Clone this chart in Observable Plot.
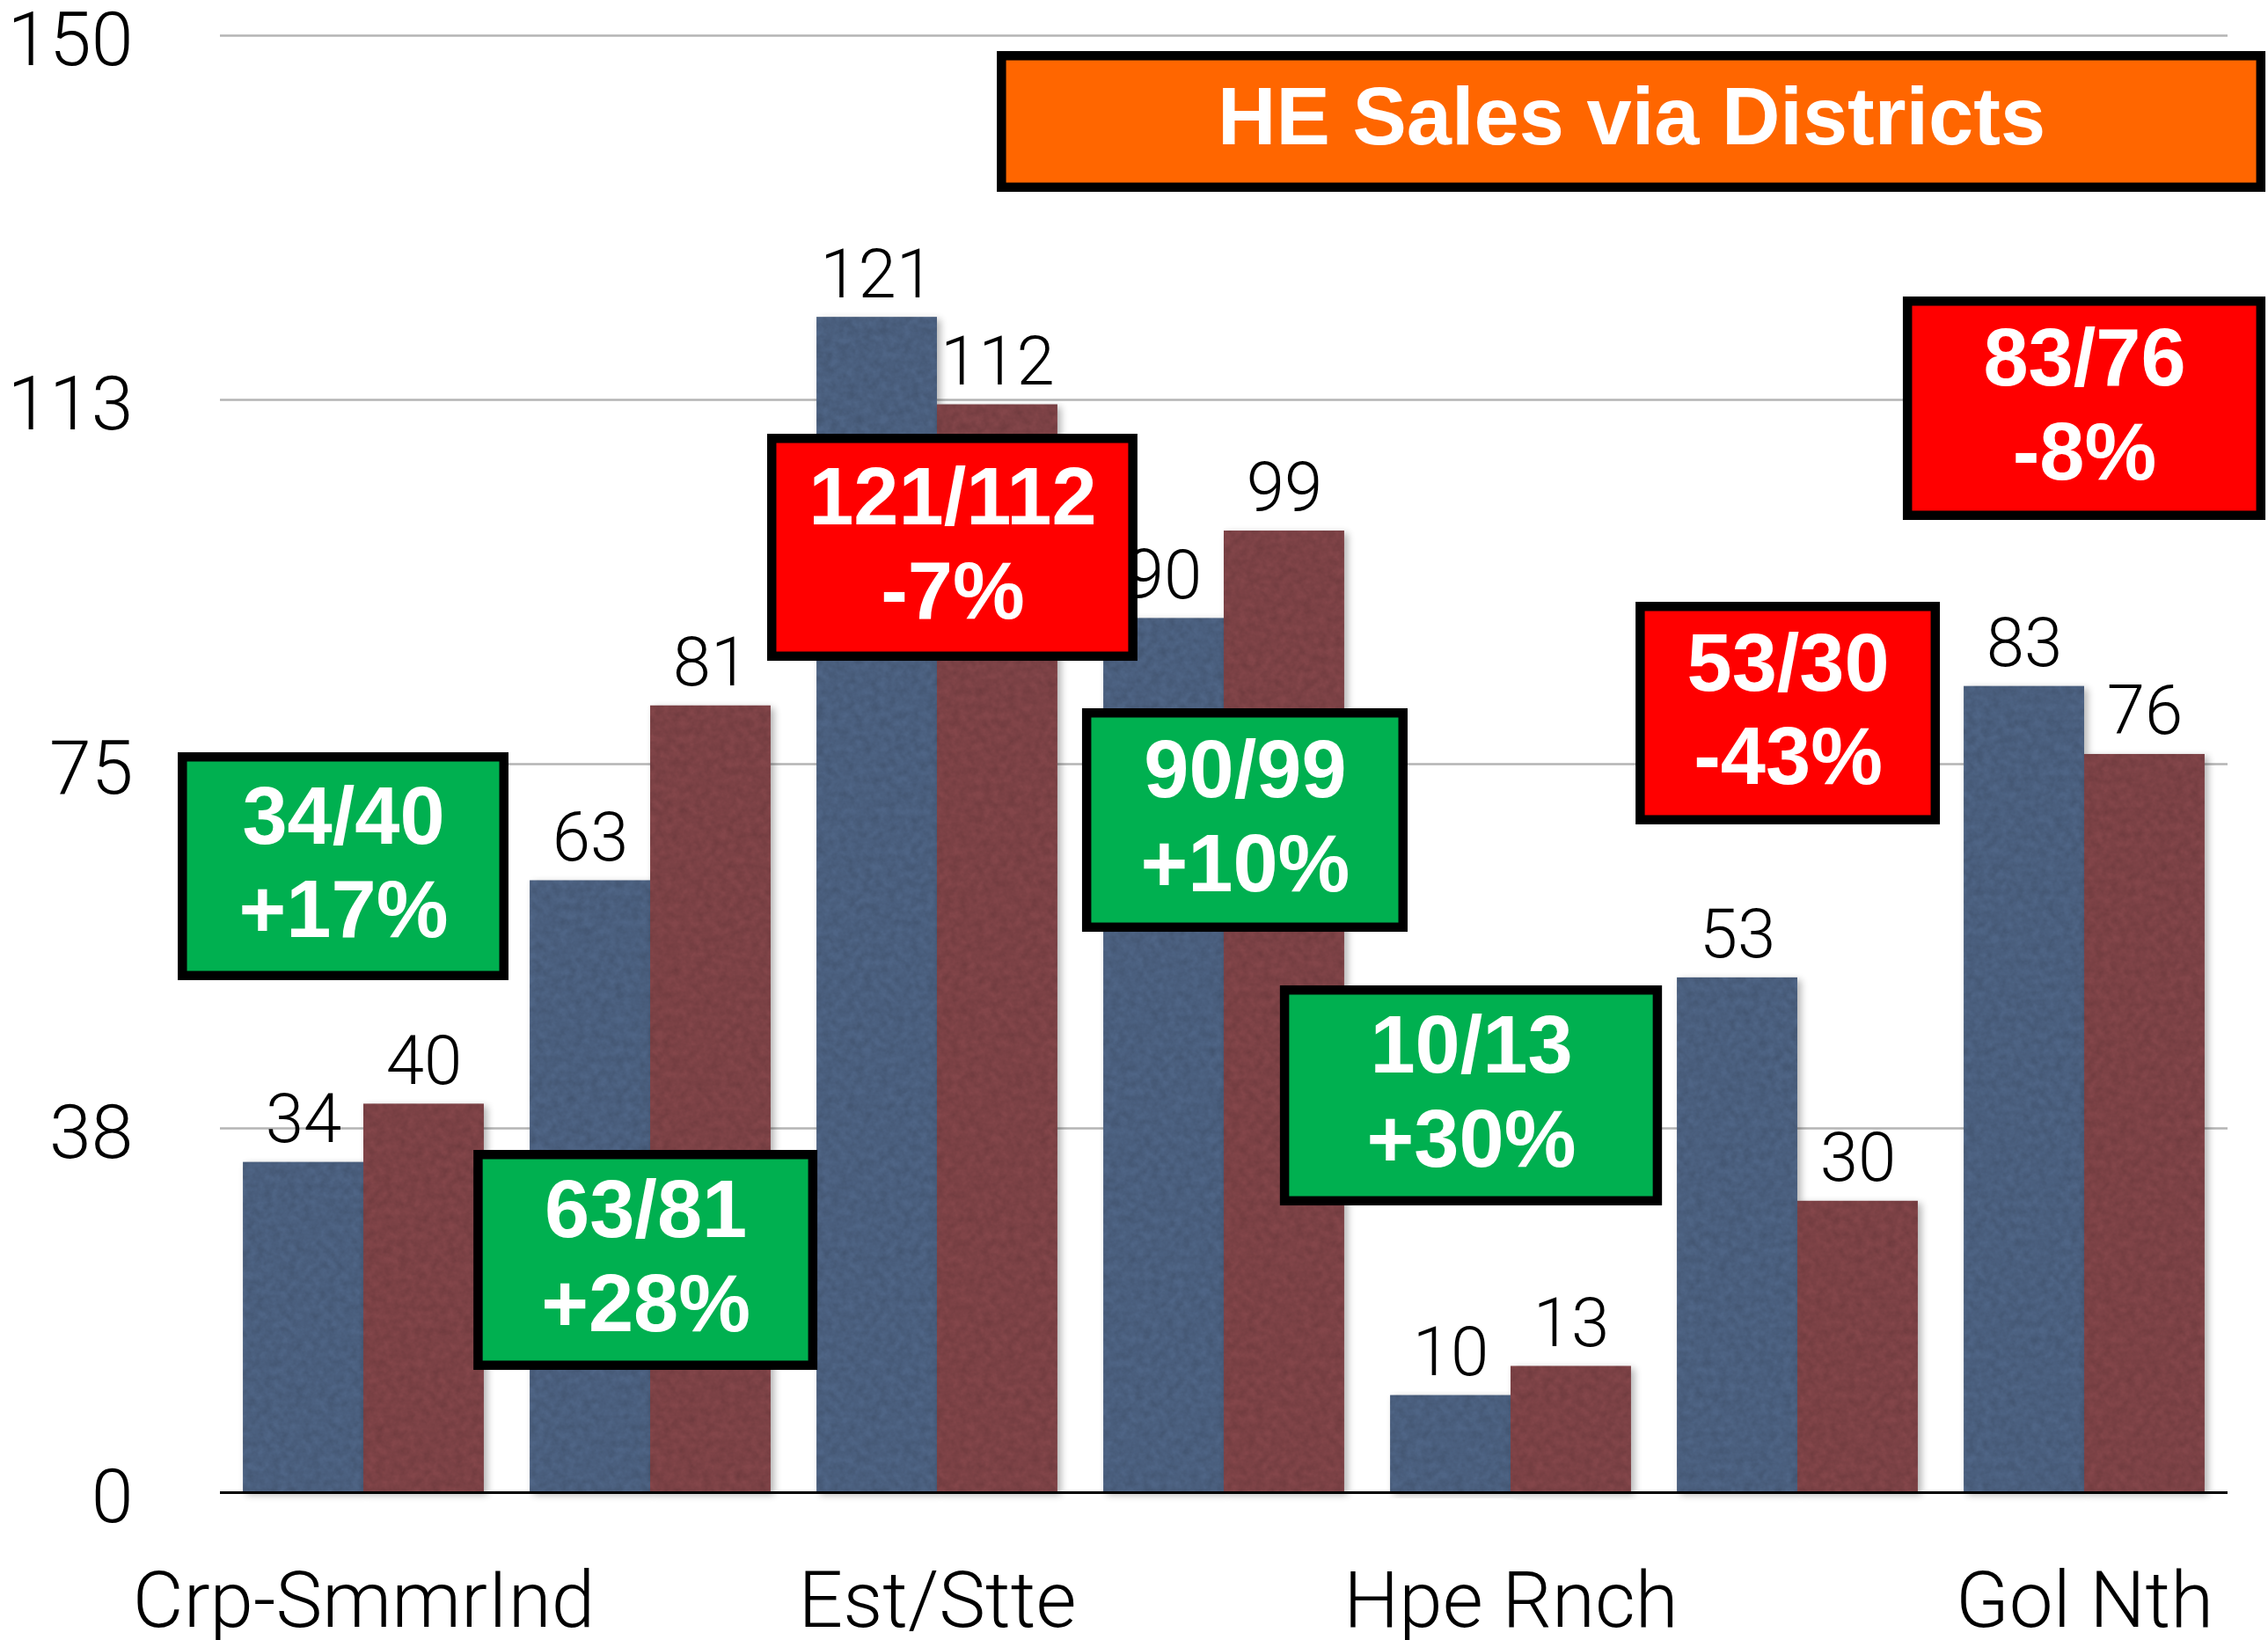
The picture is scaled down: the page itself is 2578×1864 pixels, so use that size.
<!DOCTYPE html>
<html>
<head>
<meta charset="utf-8">
<script src="https://cdn.jsdelivr.net/npm/d3@7"></script>
<script src="https://cdn.jsdelivr.net/npm/@observablehq/plot@0.6"></script>
<style>
html, body { margin: 0; padding: 0; background: #fff; overflow: hidden; }
#chart svg { display: block; }
</style>
</head>
<body>
<div id="chart"></div>
<script>
// ---- data ----
const categories = ["Crp-SmmrInd", "", "Est/Stte", "", "Hpe Rnch", "", "Gol Nth"];
const seriesA = [34, 63, 121, 90, 10, 53, 83];
const seriesB = [40, 81, 112, 99, 13, 30, 76];
const changePct = [17, 28, -7, 10, 30, -43, -8];
const yTicks = [0, 37.5, 75, 112.5, 150];
const yTickLabels = ["0", "38", "75", "113", "150"];
const title = "HE Sales via Districts";

// ---- layout of the annotation boxes (chart units: category index, value) ----
const boxLayout = [
  {x1: -0.631, x2: 0.490, y1: 53.19, y2: 75.70},
  {x1: 0.400, x2: 1.567, y1: 13.07, y2: 34.76},
  {x1: 1.424, x2: 2.683, y1: 86.07, y2: 108.49},
  {x1: 2.522, x2: 3.625, y1: 58.17, y2: 80.23},
  {x1: 3.212, x2: 4.512, y1: 30.00, y2: 51.70},
  {x1: 4.452, x2: 5.481, y1: 69.23, y2: 91.19},
  {x1: 5.384, x2: 6.616, y1: 100.57, y2: 122.62}
];
const titleLayout = {x1: 2.225, x2: 6.616, y1: 134.35, y2: 147.89};

// ---- styles ----
const HALF = 0.42;           // half of a group's width, in category units
const BLUE = "#4f6586", RED = "#84464a";
const GREEN_BOX = "#00b050", RED_BOX = "#ff0000", ORANGE = "#ff6600";

const bars = categories.flatMap((c, i) => [
  {i, series: "A", x1: i - HALF, x2: i, v: seriesA[i]},
  {i, series: "B", x1: i, x2: i + HALF, v: seriesB[i]}
]);

const notes = categories.map((c, i) => ({
  ...boxLayout[i],
  label: `${seriesA[i]}/${seriesB[i]}\n${changePct[i] > 0 ? "+" : ""}${changePct[i]}%`,
  up: changePct[i] > 0
}));

const boldFont = "'Liberation Sans', Arial, Helvetica, sans-serif";

const chart = Plot.plot({
  width: 2578,
  height: 1864,
  marginLeft: 250,
  marginRight: 46,
  marginTop: 40,
  marginBottom: 168,
  style: {fontFamily: "Roboto, 'Helvetica Neue', sans-serif", fontWeight: 300, background: "#fff", color: "#000"},
  x: {type: "linear", domain: [-0.5, 6.5]},
  y: {domain: [0, 150]},
  color: {type: "identity"},
  marks: [
    Plot.ruleY(yTicks.slice(1), {stroke: "#b4b4b4", strokeWidth: 2.6}),
    Plot.rect(bars, {
      x1: "x1", x2: "x2", y1: () => 0, y2: "v",
      fill: d => d.series === "A" ? BLUE : RED
    }),
    Plot.ruleY([0], {stroke: "#000", strokeWidth: 3}),
    Plot.text(bars, {
      x: d => (d.x1 + d.x2) / 2, y: "v", text: d => String(d.v),
      lineAnchor: "bottom", dy: -23, fontSize: 78, fill: "#000"
    }),
    Plot.axisY({
      ticks: yTicks, tickFormat: d => yTickLabels[yTicks.indexOf(d)],
      tickSize: 0, tickPadding: 99, fontSize: 86, dy: 6, label: null
    }),
    Plot.axisX({
      ticks: categories.map((c, i) => i), tickFormat: i => categories[i],
      tickSize: 0, tickPadding: 89, fontSize: 89, label: null
    }),
    Plot.rect(notes, {
      x1: "x1", x2: "x2", y1: "y1", y2: "y2",
      fill: d => d.up ? GREEN_BOX : RED_BOX, stroke: "#000", strokeWidth: 10.5
    }),
    Plot.text(notes, {
      x: d => (d.x1 + d.x2) / 2, y: d => (d.y1 + d.y2) / 2, text: "label",
      fontFamily: boldFont, fontWeight: "bold", fontSize: 92, lineHeight: 1.156,
      dy: -7, fill: "#fff"
    }),
    Plot.rect([titleLayout], {
      x1: "x1", x2: "x2", y1: "y1", y2: "y2",
      fill: ORANGE, stroke: "#000", strokeWidth: 10.5
    }),
    Plot.text([titleLayout], {
      x: d => (d.x1 + d.x2) / 2, y: d => (d.y1 + d.y2) / 2, text: () => title,
      fontFamily: boldFont, fontWeight: "bold", fontSize: 92, dy: -4, fill: "#fff"
    })
  ]
});

// subtle paper-like texture and soft shadow on the bars
const ns = "http://www.w3.org/2000/svg";
const defs = document.createElementNS(ns, "defs");
defs.innerHTML = `
<filter id="paper" x="-6%" y="-6%" width="116%" height="112%" color-interpolation-filters="sRGB">
  <feTurbulence type="fractalNoise" baseFrequency="0.11" numOctaves="3" seed="7" result="noise"/>
  <feColorMatrix in="noise" type="matrix" values="0 0 0 0 0  0 0 0 0 0  0 0 0 0 0  0.22 0 0 0 -0.05" result="dark"/>
  <feComposite in="dark" in2="SourceGraphic" operator="in" result="darkIn"/>
  <feGaussianBlur in="SourceAlpha" stdDeviation="4" result="blur"/>
  <feOffset in="blur" dx="4" dy="3" result="off"/>
  <feComponentTransfer in="off" result="shadow"><feFuncA type="linear" slope="0.3"/></feComponentTransfer>
  <feMerge><feMergeNode in="shadow"/><feMergeNode in="SourceGraphic"/><feMergeNode in="darkIn"/></feMerge>
</filter>`;
chart.insertBefore(defs, chart.firstChild);
const barGroup = chart.querySelector('g[aria-label="rect"]');
if (barGroup) barGroup.querySelectorAll("rect").forEach(r => r.setAttribute("filter", "url(#paper)"));

document.getElementById("chart").appendChild(chart);
</script>
</body>
</html>
